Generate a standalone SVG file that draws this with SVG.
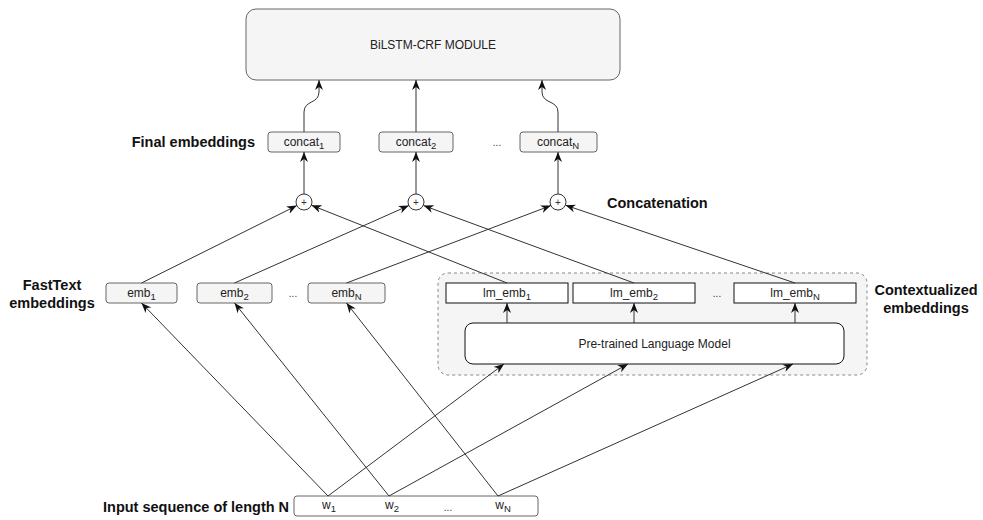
<svg xmlns="http://www.w3.org/2000/svg" width="983" height="520" viewBox="0 0 983 520">
  <style>
    .lbl { font-family: "Liberation Sans", Arial, sans-serif; font-size: 12px; fill: #222; text-anchor: middle; }
    .sub { font-size: 9.5px; }
    .dots { font-family: "Liberation Sans", Arial, sans-serif; font-size: 10px; fill: #333; text-anchor: middle; }
    .head { font-family: "Liberation Sans", Arial, sans-serif; font-size: 14.5px; font-weight: bold; fill: #111; }
    .soft { fill: #f5f5f5; stroke: #666; stroke-width: 1; }
    .plain { fill: #fff; stroke: #111; stroke-width: 1; }
    .edge { fill: none; stroke: #333; stroke-width: 1; marker-end: url(#arrow); }
  </style>
  <defs>
    <marker id="arrow" markerUnits="userSpaceOnUse" markerWidth="11" markerHeight="9" refX="10" refY="4" orient="auto">
      <path d="M0,0 L10,4 L0,8 L3,4 z" fill="#111"/>
    </marker>
  </defs>

  <!-- top module -->
  <g id="bilstm">
    <rect x="246" y="9" width="374" height="71" rx="10" class="soft"/>
    <text x="433" y="49" class="lbl">BiLSTM-CRF MODULE</text>
  </g>

  <!-- contextual encoder container -->
  <g id="contextual-group">
    <rect x="438" y="273" width="429" height="102" rx="10" fill="#f5f5f5" stroke="#888" stroke-dasharray="3 3"/>
  </g>

  <!-- final embeddings -->
  <g id="concat1">
    <rect x="268" y="132" width="72" height="20" rx="3" class="soft"/>
    <text x="304" y="146" class="lbl">concat<tspan class="sub" dy="2.5">1</tspan></text>
  </g>
  <g id="concat2">
    <rect x="379" y="132" width="74" height="20" rx="3" class="soft"/>
    <text x="416" y="146" class="lbl">concat<tspan class="sub" dy="2.5">2</tspan></text>
  </g>
  <g id="concatN">
    <rect x="520" y="132" width="77" height="20" rx="3" class="soft"/>
    <text x="558" y="146" class="lbl">concat<tspan class="sub" dy="2.5">N</tspan></text>
  </g>
  <text x="497" y="146" class="dots">...</text>

  <!-- concatenation nodes -->
  <g id="plus1">
    <circle cx="304" cy="202" r="8" fill="#fff" stroke="#333"/>
    <text x="304" y="205.5" class="dots" style="font-size:10px">+</text>
  </g>
  <g id="plus2">
    <circle cx="416" cy="202" r="8" fill="#fff" stroke="#333"/>
    <text x="416" y="205.5" class="dots" style="font-size:10px">+</text>
  </g>
  <g id="plus3">
    <circle cx="558" cy="202" r="8" fill="#fff" stroke="#333"/>
    <text x="558" y="205.5" class="dots" style="font-size:10px">+</text>
  </g>

  <!-- FastText embeddings -->
  <g id="emb1">
    <rect x="106" y="283" width="71" height="20" rx="3" class="soft"/>
    <text x="141.5" y="297" class="lbl">emb<tspan class="sub" dy="2.5">1</tspan></text>
  </g>
  <g id="emb2">
    <rect x="197" y="283" width="75" height="20" rx="3" class="soft"/>
    <text x="234.5" y="297" class="lbl">emb<tspan class="sub" dy="2.5">2</tspan></text>
  </g>
  <g id="embN">
    <rect x="308" y="283" width="77" height="20" rx="3" class="soft"/>
    <text x="346.5" y="297" class="lbl">emb<tspan class="sub" dy="2.5">N</tspan></text>
  </g>
  <text x="293" y="297" class="dots">...</text>

  <!-- contextual embeddings -->
  <g id="lm_emb1">
    <rect x="446" y="283" width="122" height="20" class="plain"/>
    <text x="507" y="297" class="lbl">lm_emb<tspan class="sub" dy="2.5">1</tspan></text>
  </g>
  <g id="lm_emb2">
    <rect x="573" y="283" width="122" height="20" class="plain"/>
    <text x="634" y="297" class="lbl">lm_emb<tspan class="sub" dy="2.5">2</tspan></text>
  </g>
  <g id="lm_embN">
    <rect x="734" y="283" width="122" height="20" class="plain"/>
    <text x="795" y="297" class="lbl">lm_emb<tspan class="sub" dy="2.5">N</tspan></text>
  </g>
  <text x="717" y="297" class="dots">...</text>

  <g id="plm">
    <rect x="465" y="323" width="379" height="41" rx="8" class="plain"/>
    <text x="654.5" y="348" class="lbl">Pre-trained Language Model</text>
  </g>

  <!-- input sequence -->
  <g id="input">
    <rect x="294" y="496" width="244" height="20" rx="3" fill="#fff" stroke="#666"/>
    <text x="329" y="509" class="lbl">w<tspan class="sub" dy="2.5">1</tspan></text>
    <text x="392" y="509" class="lbl">w<tspan class="sub" dy="2.5">2</tspan></text>
    <text x="448" y="511" class="dots">...</text>
    <text x="503" y="509" class="lbl">w<tspan class="sub" dy="2.5">N</tspan></text>
  </g>

  <!-- side labels -->
  <g id="labels">
    <text x="255" y="147" class="head" text-anchor="end">Final embeddings</text>
    <text x="607" y="208" class="head">Concatenation</text>
    <text x="52" y="290" class="head" text-anchor="middle">FastText</text>
    <text x="52" y="308" class="head" text-anchor="middle">embeddings</text>
    <text x="926" y="295" class="head" text-anchor="middle">Contextualized</text>
    <text x="926" y="313" class="head" text-anchor="middle">embeddings</text>
    <text x="103" y="512" class="head">Input sequence of length N</text>
  </g>

  <!-- connectors -->
  <g id="connectors">
    <!-- final embeddings into the tagger -->
    <path class="edge" d="M304,132 V112 C304,100 319,104 319,92 V80"/>
    <path class="edge" d="M416,132 V80"/>
    <path class="edge" d="M558,132 V112 C558,100 542,104 542,92 V80"/>
    <!-- concatenation outputs -->
    <path class="edge" d="M304,194 V152"/>
    <path class="edge" d="M416,194 V152"/>
    <path class="edge" d="M558,194 V152"/>
    <!-- word embeddings into concatenation -->
    <path class="edge" d="M141.5,283 L296.8,205.6"/>
    <path class="edge" d="M234.5,283 L408.8,205.6"/>
    <path class="edge" d="M346.5,283 L550.8,205.6"/>
    <!-- contextual embeddings into concatenation -->
    <path class="edge" d="M507,283 L311.5,205.3"/>
    <path class="edge" d="M634,283 L423.6,205.6"/>
    <path class="edge" d="M795,283 L565.5,205.2"/>
    <!-- language model outputs -->
    <path class="edge" d="M507,323 V303"/>
    <path class="edge" d="M634,323 V303"/>
    <path class="edge" d="M795,323 V303"/>
    <!-- input tokens to word embeddings -->
    <path class="edge" d="M328,496 L141.5,303"/>
    <path class="edge" d="M389,496 L234.5,303"/>
    <path class="edge" d="M498,496 L346.5,303"/>
    <!-- input tokens to language model -->
    <path class="edge" d="M328,496 L504,364"/>
    <path class="edge" d="M389,496 L628,364"/>
    <path class="edge" d="M498,496 L793,364"/>
  </g>
</svg>
